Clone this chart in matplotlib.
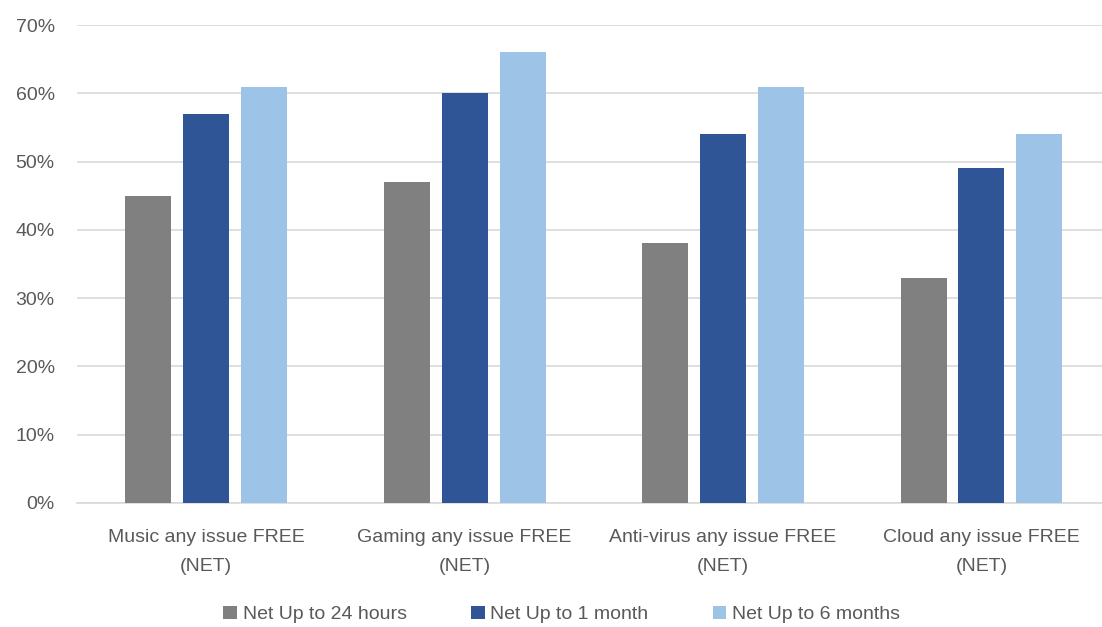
import matplotlib

matplotlib.use("Agg")
import matplotlib.pyplot as plt
import numpy as np
from matplotlib.ticker import PercentFormatter

categories = [
    "Music any issue FREE\n(NET)",
    "Gaming any issue FREE\n(NET)",
    "Anti-virus any issue FREE\n(NET)",
    "Cloud any issue FREE\n(NET)",
]
series_names = ["Net Up to 24 hours", "Net Up to 1 month", "Net Up to 6 months"]
up_to_24h = [45, 47, 38, 33]
up_to_1m = [57, 60, 54, 49]
up_to_6m = [61, 66, 61, 54]

colors = ["#808080", "#2f5597", "#9dc3e6"]
text_color = "#595959"

plt.rcParams["font.family"] = ["Liberation Sans", "DejaVu Sans"]

fig = plt.figure(figsize=(11.02, 6.27), dpi=100)
# right edge of the plot area runs a little past the figure, as in the source
ax = fig.add_axes([0.0699, 0.198, 0.938, 0.762])

x = np.arange(len(categories))
width = 0.178
step = 0.224
for i, (vals, name) in enumerate(zip([up_to_24h, up_to_1m, up_to_6m], series_names)):
    ax.bar(x + (i - 1) * step, vals, width, color=colors[i], label=name, zorder=3)

ax.set_xlim(-0.5, len(categories) - 0.5)
ax.set_ylim(0, 70)
ax.set_yticks(np.arange(0, 71, 10))
ax.yaxis.set_major_formatter(PercentFormatter(decimals=0))
ax.set_xticks(x)
ax.set_xticklabels(categories, linespacing=1.9)
ax.grid(axis="y", color="#d9d9d9", linewidth=1.2, zorder=0)
for side in ["top", "right", "left"]:
    ax.spines[side].set_visible(False)
ax.spines["bottom"].set_color("#d9d9d9")
ax.spines["bottom"].set_linewidth(1.2)
ax.tick_params(axis="both", length=0, labelsize=14, colors=text_color)
ax.tick_params(axis="y", pad=16)
ax.tick_params(axis="x", pad=19)

ax.legend(
    loc="center", bbox_to_anchor=(0.469, -0.234), ncol=3, frameon=False,
    fontsize=14, labelcolor=text_color, handlelength=0.7, handleheight=0.7,
    handletextpad=0.3, columnspacing=3.3,
)

fig.savefig("out.png", dpi=100)
